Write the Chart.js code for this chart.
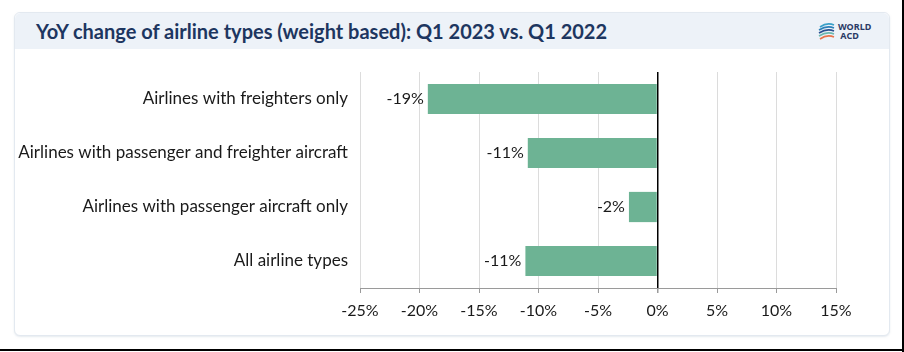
<!DOCTYPE html>
<html>
<head>
<meta charset="utf-8">
<script src="https://cdn.jsdelivr.net/npm/chart.js@4/dist/chart.umd.min.js"></script>
<style>
  html, body { margin: 0; padding: 0; background: #fff; }
  #wrap { position: relative; width: 904px; height: 352px; overflow: hidden; background: #fff; }
  #card { position: absolute; left: 14px; top: 12px; width: 874px; height: 322px;
          border: 1px solid #e3e9f0; border-radius: 6px; background: #fff;
          box-shadow: 0 1px 2px rgba(180,195,210,0.35); }
  #header { position: absolute; left: 0; top: 0; width: 874px; height: 36px;
            background: #edf2f8; border-radius: 6px 6px 0 0; }
  #title { position: absolute; left: 21px; top: 6px; font-family: Lato, "Open Sans", sans-serif;
           font-weight: bold; font-size: 20px; color: #1d3660; white-space: nowrap; }
  #logo { position: absolute; left: 803px; top: 8px; width: 64px; height: 22px; }
  #logotext { position: absolute; left: 20px; top: 1px; font-family: "Noto Sans", sans-serif; font-weight: bold;
              font-size: 9px; line-height: 9px; color: #2a3a66; }
  canvas { position: absolute; left: 0; top: 48px; }
  #rb { position: absolute; left: 902px; top: 0; width: 2px; height: 352px; background: #000; }
  #bb { position: absolute; left: 0; top: 349px; width: 904px; height: 2px; background: #000; }
</style>
</head>
<body>
<div id="wrap">
  <div id="card">
    <div id="header">
      <div id="title">YoY change of airline types (weight based): Q1 2023 vs. Q1 2022</div>
      <div id="logo">
        <svg width="18" height="22" viewBox="0 0 18 22" style="position:absolute;left:0;top:0">
          <path d="M2 6 Q9 1 16 4" stroke="#3aa0c8" stroke-width="1.6" fill="none"/>
          <path d="M1 9 Q9 4 16 7" stroke="#2a7fb8" stroke-width="1.6" fill="none"/>
          <path d="M1 12 Q9 7 16 10" stroke="#2a4f8f" stroke-width="1.6" fill="none"/>
          <path d="M1 15 Q9 10 16 13" stroke="#6bb7b0" stroke-width="1.6" fill="none"/>
          <path d="M2 18 Q9 13 16 16" stroke="#e8734a" stroke-width="1.6" fill="none"/>
        </svg>
        <div id="logotext">WORLD<br>&nbsp;ACD</div>
      </div>
    </div>
  </div>
  <canvas id="c" width="904" height="290"></canvas>
  <div id="rb"></div>
  <div id="bb"></div>
</div>
<script>
const categories = [
  "Airlines with freighters only",
  "Airlines with passenger and freighter aircraft",
  "Airlines with passenger aircraft only",
  "All airline types"
];
const yoyChange = [-19.3, -10.9, -2.4, -11.1];
const tickValues = [-25, -20, -15, -10, -5, 0, 5, 10, 15];

const FONT = "Lato, 'Open Sans', sans-serif";

const labelPlugin = {
  id: 'barLabels',
  afterDatasetsDraw(chart) {
    const ctx = chart.ctx;
    const meta = chart.getDatasetMeta(0);
    ctx.save();
    ctx.font = "16px " + FONT;
    ctx.fillStyle = "#1a1a1a";
    ctx.textBaseline = "middle";
    meta.data.forEach((bar, i) => {
      const v = chart.data.datasets[0].data[i];
      const txt = Math.round(v) + "%";
      if (v < 0) { ctx.textAlign = "right"; ctx.fillText(txt, bar.x - 4, bar.y); }
      else { ctx.textAlign = "left"; ctx.fillText(txt, bar.x + 4, bar.y); }
    });
    ctx.restore();
  }
};

new Chart(document.getElementById('c'), {
  type: 'bar',
  data: {
    labels: categories,
    datasets: [{
      data: yoyChange,
      backgroundColor: '#6db394',
      borderWidth: 0,
      barPercentage: 0.56,
      categoryPercentage: 1.0
    }]
  },
  options: {
    indexAxis: 'y',
    responsive: false,
    animation: false,
    events: [],
    layout: { padding: { left: 0, right: 68, top: 24, bottom: 0 } },
    plugins: { legend: { display: false }, tooltip: { enabled: false }, title: { display: false } },
    scales: {
      x: {
        min: -25, max: 15,
        afterBuildTicks(scale) { scale.ticks = tickValues.map(v => ({ value: v })); },
        afterFit(scale) { scale.height = 50; },
        grid: {
          color: ctx => (ctx.tick && ctx.tick.value === 0) ? '#000000' : '#dcdcdc',
          lineWidth: ctx => (ctx.tick && ctx.tick.value === 0) ? 1.5 : 1,
          tickColor: '#9a9a9a',
          tickLength: 5,
          drawOnChartArea: true
        },
        border: { display: true, color: '#9a9a9a', width: 1 },
        ticks: {
          padding: 8,
          color: '#1a1a1a',
          font: { family: FONT, size: 16 },
          callback: v => v + '%',
          maxRotation: 0
        }
      },
      y: {
        afterFit(scale) { scale.width = 360; },
        grid: { display: false, drawTicks: false },
        border: { display: false },
        ticks: {
          padding: 12,
          color: '#1a1a1a',
          font: { family: FONT, size: 17 }
        }
      }
    }
  },
  plugins: [labelPlugin]
});
</script>
</body>
</html>
